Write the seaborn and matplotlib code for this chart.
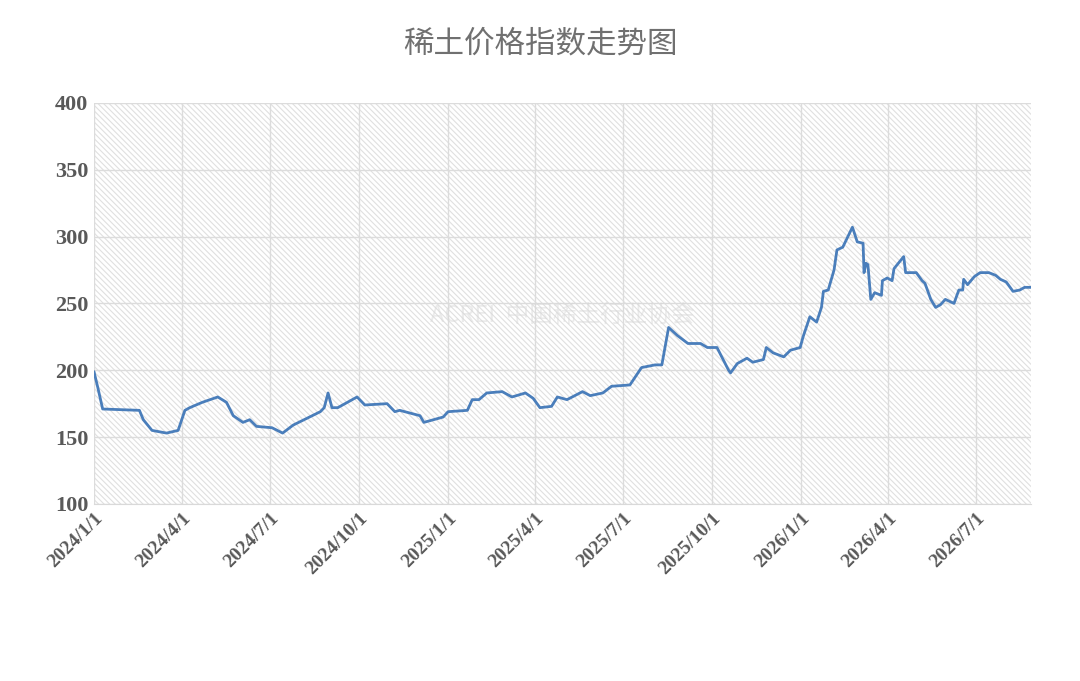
import pandas as pd
import seaborn as sns
import matplotlib.pyplot as plt
import matplotlib.dates as mdates
from matplotlib.patches import Rectangle

# days since 2024-01-01, and index value
day_offsets = [0, 4, 9, 47, 51, 60, 75, 87, 94, 99, 112, 128, 137, 144, 154, 161, 168,
               184, 195, 206, 220, 234, 238, 242, 246, 252, 262, 272, 280, 303, 311, 316,
               337, 341, 361, 366, 386, 391, 398, 406, 422, 432, 446, 454, 461, 473, 479,
               489, 505, 513, 526, 535, 554, 566, 580, 587, 594, 603, 614, 627, 634, 644,
               656, 658, 665, 675, 681, 692, 695, 702, 713, 720, 730, 733, 740, 747, 752,
               754, 759, 765, 768, 774, 784, 789, 795, 796, 798, 800, 803, 807, 814, 815,
               820, 825, 827, 837, 839, 844, 850, 856, 859, 865, 870, 875, 880, 889, 894,
               898, 899, 903, 910, 916, 925, 932, 937, 943, 950, 957, 962, 970]
values = [199, 187, 171, 170, 163, 155, 153, 155, 170, 172, 176, 180, 176, 166, 161, 163, 158,
          157, 153, 159, 164, 169, 172, 183, 172, 172, 176, 180, 174, 175, 169, 170,
          166, 161, 165, 169, 170, 178, 178, 183, 184, 180, 183, 179, 172, 173, 180,
          178, 184, 181, 183, 188, 189, 202, 204, 204, 232, 226, 220, 220, 217, 217,
          200, 198, 205, 209, 206, 208, 217, 213, 210, 215, 217, 225, 240, 236, 247,
          259, 260, 275, 290, 292, 307, 296, 295, 273, 280, 279, 253, 258, 256, 267,
          269, 267, 276, 285, 273, 273, 273, 267, 265, 253, 247, 249, 253, 250, 260,
          260, 268, 264, 270, 273, 273, 271, 268, 266, 259, 260, 262, 262]

tick_dates = ['2024-01-01', '2024-04-01', '2024-07-01', '2024-10-01', '2025-01-01',
              '2025-04-01', '2025-07-01', '2025-10-01', '2026-01-01', '2026-04-01',
              '2026-07-01']
tick_labels = ['2024/1/1', '2024/4/1', '2024/7/1', '2024/10/1', '2025/1/1', '2025/4/1',
               '2025/7/1', '2025/10/1', '2026/1/1', '2026/4/1', '2026/7/1']

start = pd.Timestamp('2024-01-01')
df = pd.DataFrame({'date': [start + pd.Timedelta(days=d) for d in day_offsets],
                   'value': values})

sns.set_style('white')
plt.rcParams['font.family'] = ['Noto Sans CJK SC', 'DejaVu Sans']
plt.rcParams['hatch.linewidth'] = 0.8

fig = plt.figure(figsize=(10.8, 6.81), dpi=100)
ax = fig.add_axes([0.087, 0.26, 0.868, 0.589])

x0 = mdates.date2num(start)
x1 = x0 + 969
ax.set_xlim(x0, x1)
ax.set_ylim(100, 400)

# hatched plot background
ax.add_patch(Rectangle((0, 0), 1, 1, transform=ax.transAxes, facecolor='white',
                       edgecolor='#e0e0e0', hatch='\\\\\\\\\\\\', linewidth=0, zorder=0))
ax.grid(True, color='#dcdcdc', linewidth=1)
ax.set_axisbelow(True)

sns.lineplot(data=df, x='date', y='value', color='#4a7ebb', linewidth=2, ax=ax, zorder=3)

ax.set_xticks([mdates.date2num(pd.Timestamp(t)) for t in tick_dates])
ax.set_xticklabels(tick_labels, rotation=45, ha='right', rotation_mode='anchor',
                   fontsize=14, fontweight='bold', family='Liberation Serif', color='#595959')
ax.set_yticks(range(100, 401, 50))
ax.set_yticklabels([str(v) for v in range(100, 401, 50)], fontsize=16, fontweight='bold',
                   family='Liberation Serif', color='#595959')
ax.tick_params(length=0, pad=4)
ax.set_xlabel('')
ax.set_ylabel('')
for s in ax.spines.values():
    s.set_visible(False)
ax.spines['bottom'].set_visible(True)
ax.spines['bottom'].set_color('#d9d9d9')

# faint watermark
ax.text(0.5, 0.47, 'ACREI  中国稀土行业协会', transform=ax.transAxes, ha='center', va='center',
        fontsize=17, color='#d8d8d8', alpha=0.5, zorder=2)

fig.text(0.5, 0.935, '稀土价格指数走势图', ha='center', va='center', fontsize=22,
         color='#707070')

fig.savefig('out.png', dpi=100)
